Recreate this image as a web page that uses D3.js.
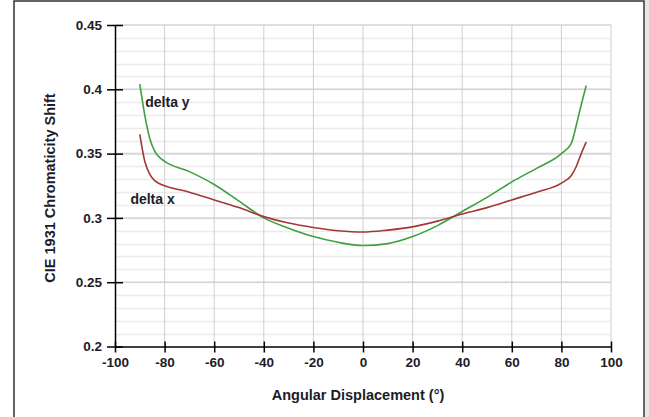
<!DOCTYPE html>
<html>
<head>
<meta charset="utf-8">
<script src="https://cdn.jsdelivr.net/npm/d3@7"></script>
<style>
  body { margin: 0; background: #fff; }
  svg text { font-family: "Liberation Sans", Arial, sans-serif; font-weight: bold; fill: #1c1c28; }
</style>
</head>
<body>
<svg id="chart" width="649" height="417"></svg>
<script>
// angle (deg) and chromaticity shift
const angles = [-90, -88, -86, -84, -82, -80, -70, -60, -50, -40, -30, -20, -10, 0, 10, 20, 30, 40, 50, 60, 70, 80, 84, 86, 88, 90];
const deltaY = [0.404, 0.380, 0.362, 0.352, 0.347, 0.344, 0.336, 0.326, 0.313, 0.300, 0.292, 0.2855, 0.281, 0.2785, 0.280, 0.2855, 0.294, 0.305, 0.316, 0.328, 0.3385, 0.350, 0.358, 0.372, 0.388, 0.403];
const deltaX = [0.365, 0.344, 0.334, 0.329, 0.3265, 0.325, 0.320, 0.314, 0.308, 0.301, 0.296, 0.2925, 0.290, 0.289, 0.2905, 0.293, 0.2975, 0.303, 0.308, 0.314, 0.320, 0.327, 0.333, 0.340, 0.350, 0.359];

const xTicks = [-100, -80, -60, -40, -20, 0, 20, 40, 60, 80, 100];
const yTicks = [0.2, 0.25, 0.3, 0.35, 0.4, 0.45];
const yMinor = d3.range(0.21, 0.45, 0.01);

const series = [
    { name: 'delta y', values: deltaY, color: '#3f9f3f', label: [-87.8, 0.386] },
    { name: 'delta x', values: deltaX, color: '#a23838', label: [-93.8, 0.311] }
];

const svg = d3.select('#chart');
const margin = { left: 115, right: 38, top: 25, bottom: 70.5 };
const width = 649 - margin.left - margin.right;
const height = 417 - margin.top - margin.bottom;

// outer frame
svg.append('rect').attr('x', 645).attr('y', 0).attr('width', 4).attr('height', 417).attr('fill', '#e6e6e6');
svg.append('rect')
    .attr('x', 14).attr('y', 1).attr('width', 630).attr('height', 430)
    .attr('fill', 'none').attr('stroke', '#333').attr('stroke-width', 1.5);

const x = d3.scaleLinear().domain([-100, 100]).range([0, width]);
const y = d3.scaleLinear().domain([0.2, 0.45]).range([height, 0]);

const g = svg.append('g').attr('transform', `translate(${margin.left},${margin.top})`);

// grid
g.append('g').selectAll('line').data(yMinor).enter().append('line')
    .attr('x1', 0).attr('x2', width)
    .attr('y1', d => Math.round(y(d)) + 0.5).attr('y2', d => Math.round(y(d)) + 0.5)
    .attr('stroke', '#ebebeb').attr('stroke-width', 1.5);
g.append('g').selectAll('line').data(yTicks.slice(1)).enter().append('line')
    .attr('x1', 0).attr('x2', width)
    .attr('y1', d => y(d)).attr('y2', d => y(d))
    .attr('stroke', '#d4d4d4').attr('stroke-width', 1.5);
g.append('g').selectAll('line').data(xTicks.slice(1)).enter().append('line')
    .attr('y1', 0).attr('y2', height)
    .attr('x1', d => x(d)).attr('x2', d => x(d))
    .attr('stroke', '#cfcfcf').attr('stroke-width', 1);

// axes
const xAxis = g.append('g')
    .attr('transform', `translate(0,${height})`)
    .call(d3.axisBottom(x).tickValues(xTicks).tickSize(6).tickSizeOuter(0).tickFormat(d => String(d)));
xAxis.selectAll('.tick line').attr('y1', -5).attr('y2', 6);
xAxis.selectAll('text').attr('dy', '0.71em').attr('y', 11);

const yAxis = g.append('g')
    .call(d3.axisLeft(y).tickValues(yTicks).tickSize(8).tickSizeOuter(0).tickFormat(d => String(+d.toFixed(2))));
yAxis.selectAll('.tick line').attr('x1', -8).attr('x2', 8);
yAxis.selectAll('text').attr('x', -13);

[xAxis, yAxis].forEach(a => {
    a.selectAll('text').style('font-size', '13.5px').attr('fill', '#1c1c28');
    a.select('.domain').attr('stroke', '#000').attr('stroke-width', 1.5);
    a.selectAll('.tick line').attr('stroke', '#000').attr('stroke-width', 1.5);
});

// lines
const line = d3.line()
    .x((d, i) => x(angles[i]))
    .y(d => y(d))
    .curve(d3.curveMonotoneX);

series.forEach(s => {
    g.append('path')
        .datum(s.values)
        .attr('d', line)
        .attr('fill', 'none')
        .attr('stroke', s.color)
        .attr('stroke-width', 1.6);
    g.append('text')
        .attr('x', x(s.label[0]))
        .attr('y', y(s.label[1]))
        .style('font-size', '14px')
        .text(s.name);
});

// titles
svg.append('text')
    .attr('x', 358)
    .attr('y', 400)
    .attr('text-anchor', 'middle')
    .style('font-size', '14.5px')
    .text('Angular Displacement (°)');

svg.append('text')
    .attr('transform', 'translate(55,188) rotate(-90)')
    .attr('text-anchor', 'middle')
    .style('font-size', '14.5px')
    .text('CIE 1931 Chromaticity Shift');
</script>
</body>
</html>
